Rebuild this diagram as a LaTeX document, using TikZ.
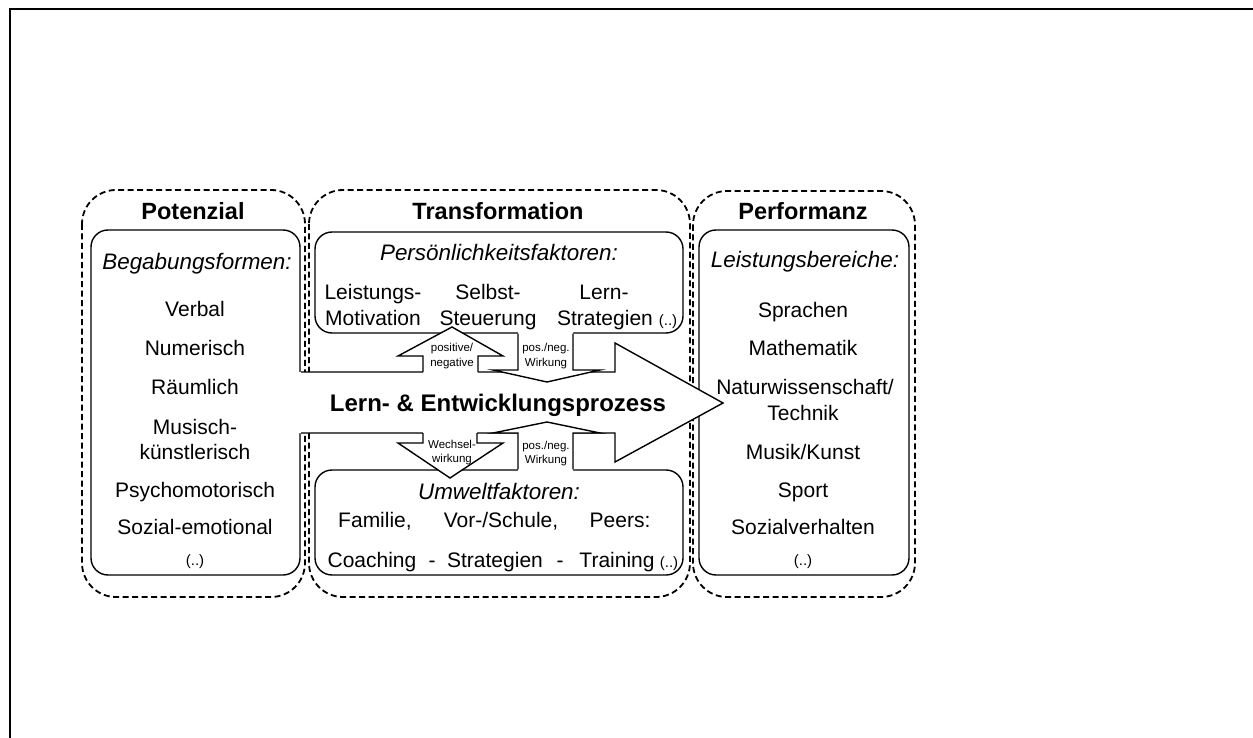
\documentclass[tikz,border=0pt]{standalone}
\usepackage{fontspec}
\setmainfont{Liberation Sans}
\begin{document}
\begin{tikzpicture}[x=1pt,y=-1pt,
  dashbox/.style={draw, line width=1.8pt, dash pattern=on 6pt off 3.5pt, rounded corners=34pt},
  innerbox/.style={draw, line width=1.4pt, fill=white, rounded corners=17pt},
  blk/.style={line width=1.4pt, line join=miter},
  title/.style={font=\fontsize{23.5}{27}\selectfont\bfseries, anchor=base, inner sep=0pt},
  hdr/.style={font=\fontsize{22.4}{26}\selectfont\itshape, anchor=base, inner sep=0pt},
  txt/.style={font=\fontsize{21}{26}\selectfont, anchor=base, inner sep=0pt},
  small/.style={font=\fontsize{11.5}{14}\selectfont, anchor=base, inner sep=0pt},
  dots/.style={font=\fontsize{15}{18}\selectfont, anchor=base, inner sep=0pt}
]
\useasboundingbox (0,0) rectangle (1253,738);
% outer frame
\draw[line width=2pt] (1253,9) -- (10,9) -- (10,738);

% dashed group boxes
\draw[dashbox] (82,190) rectangle (305,597);
\draw[dashbox] (309,190) rectangle (690,597);
\draw[dashbox] (693,191) rectangle (915,597);

% inner boxes
\draw[innerbox] (91,230) rectangle (300,575);
\draw[innerbox] (315,232) rectangle (683,333);
\draw[innerbox] (315,470) rectangle (683,575);
\draw[innerbox] (699,230) rectangle (909,575);

% big arrow
\fill[white] (298,372) -- (615,372) -- (615,343) -- (723,403) -- (615,462) -- (615,433) -- (298,433) -- cycle;
\draw[blk] (301,372) -- (615,372) -- (615,343) -- (723,403) -- (615,462) -- (615,433) -- (301,433);

% small arrow: positive/negative (up)
\fill[white] (423,374.5) -- (423,356) -- (398,356) -- (452,327) -- (503,356) -- (478,356) -- (478,374.5) -- cycle;
\draw[blk] (423,372) -- (423,356) -- (398,356) -- (452,327) -- (503,356) -- (478,356) -- (478,372);

% small arrow: pos./neg. Wirkung (down, top)
\fill[white] (518,330) -- (518,370) -- (493,370) -- (547,382) -- (600,370) -- (573,370) -- (573,330) -- cycle;
\draw[blk] (518,333.7) -- (518,370) -- (493,370) -- (547,382) -- (600,370) -- (573,370) -- (573,333.7);

% small arrow: Wechselwirkung (down)
\fill[white] (423,430.5) -- (423,443) -- (398,443) -- (450,478) -- (503,443) -- (477,443) -- (477,430.5) -- cycle;
\draw[blk] (423,433) -- (423,443) -- (398,443) -- (450,478) -- (503,443) -- (477,443) -- (477,433);

% small arrow: pos./neg. Wirkung (up, bottom)
\fill[white] (518,473) -- (518,433) -- (493,433) -- (547,422) -- (600,433) -- (573,433) -- (573,473) -- cycle;
\draw[blk] (518,469.3) -- (518,433) -- (493,433) -- (547,422) -- (600,433) -- (573,433) -- (573,469.3);

% titles
\node[title] (tPot) at (193,220) {Potenzial};
\node[title] (tTra) at (498,220) {Transformation};
\node[title] (tPer) at (803,220) {Performanz};

% Potenzial
\node[hdr] (hPot) at (197,269.5) {Begabungsformen:};
\node[txt] (p1) at (195,316.5) {Verbal};
\node[txt] (p2) at (195,355.5) {Numerisch};
\node[txt] (p3) at (195,394.5) {Räumlich};
\node[txt] (p4a) at (195,434.5) {Musisch-};
\node[txt] (p4b) at (195,459.5) {künstlerisch};
\node[txt] (p5) at (195,497.5) {Psychomotorisch};
\node[txt] (p6) at (195,534.5) {Sozial-emotional};
\node[dots] (p7) at (195,565) {(..)};

% Transformation - Persönlichkeit
\node[hdr] (hPers) at (499,260.5) {Persönlichkeitsfaktoren:};
\node[txt] (t1a) at (373,299.5) {Leistungs-};
\node[txt] (t1b) at (373,325.5) {Motivation};
\node[txt] (t2a) at (488,299.5) {Selbst-};
\node[txt] (t2b) at (488,325.5) {Steuerung};
\node[txt] (t3a) at (604,299.5) {Lern-};
\node[txt] (t3b) at (605,325.5) {Strategien};
\node[dots] (t4) at (668,325.5) {(..)};

% Transformation - Umwelt
\node[hdr] (hUmw) at (499,499.5) {Umweltfaktoren:};
\node[txt] (u1) at (375,527.5) {Familie,};
\node[txt] (u2) at (501,527.5) {Vor-/Schule,};
\node[txt] (u3) at (620,527.5) {Peers:};
\node[txt] (u4) at (372,567.5) {Coaching};
\node[txt] (u5) at (432,567.5) {-};
\node[txt] (u6) at (495,567.5) {Strategien};
\node[txt] (u7) at (560,567.5) {-};
\node[txt] (u8) at (617,567.5) {Training};
\node[dots] (u9) at (669,567.5) {(..)};

% big arrow label
\node[font=\fontsize{24}{28}\selectfont\bfseries, anchor=base, inner sep=0pt] (big) at (498,411.5) {Lern- \& Entwicklungsprozess};

% small arrow labels
\node[small] (s1a) at (452,351) {positive/};
\node[small] (s1b) at (452,366) {negative};
\node[small] (s2a) at (546,351) {pos./neg.};
\node[small] (s2b) at (546,366) {Wirkung};
\node[small] (s3a) at (452,448) {Wechsel-};
\node[small] (s3b) at (452,462) {wirkung};
\node[small] (s4a) at (546,449) {pos./neg.};
\node[small] (s4b) at (546,463) {Wirkung};

% Performanz
\node[hdr] (hPer) at (805,267.5) {Leistungsbereiche:};
\node[txt] (r1) at (803,317.5) {Sprachen};
\node[txt] (r2) at (803,355.5) {Mathematik};
\node[txt] (r3a) at (805,394.5) {Naturwissenschaft/};
\node[txt] (r3b) at (803,420.5) {Technik};
\node[txt] (r4) at (803,459.5) {Musik/Kunst};
\node[txt] (r5) at (803,497.5) {Sport};
\node[txt] (r6) at (803,534.5) {Sozialverhalten};
\node[dots] (r7) at (803,565) {(..)};
\end{tikzpicture}
\end{document}
